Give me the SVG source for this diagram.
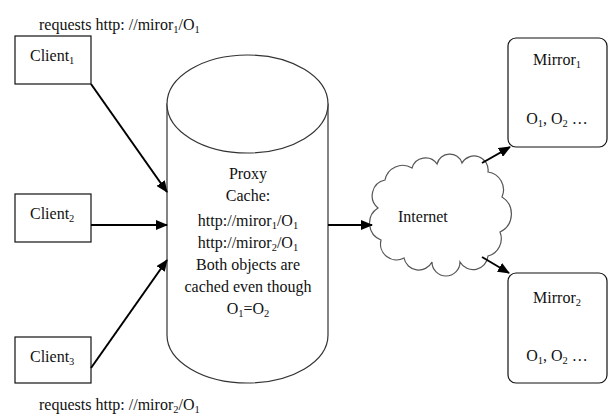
<svg xmlns="http://www.w3.org/2000/svg" width="608" height="416" viewBox="0 0 608 416">
<defs>
<style>
text{font-family:'Liberation Serif','Tinos','Times New Roman','DejaVu Serif',serif;font-size:16px;fill:#111;}
.c{text-anchor:middle;}
.box{fill:#fff;stroke:#111;stroke-width:1.2;}
.cyl{fill:#fff;stroke:#333;stroke-width:1.2;}
.cloud{fill:#fff;stroke:#555;stroke-width:1.2;}
.arr{stroke:#000;stroke-width:2;fill:none;marker-end:url(#ah);}
.s{font-size:10.5px;}
</style>
<marker id="ah" markerWidth="12" markerHeight="10" refX="11" refY="5" orient="auto" markerUnits="userSpaceOnUse"><path d="M0,0 L12,5 L0,10 z" fill="#000"/></marker>
</defs>
<rect width="608" height="416" fill="#fff"/>
<text x="39" y="30">requests http: //miror<tspan class="s" dy="3">1</tspan><tspan dy="-3">/O</tspan><tspan class="s" dy="3">1</tspan></text>
<text x="39" y="410">requests http: //miror<tspan class="s" dy="3">2</tspan><tspan dy="-3">/O</tspan><tspan class="s" dy="3">1</tspan></text>
<g id="client1"><rect class="box" x="15" y="36" width="76" height="48"/><text x="30" y="61">Client<tspan class="s" dy="3">1</tspan></text></g>
<g id="client2"><rect class="box" x="15" y="194" width="76" height="48"/><text x="30" y="219">Client<tspan class="s" dy="3">2</tspan></text></g>
<g id="client3"><rect class="box" x="15" y="337" width="76" height="46"/><text x="30" y="362">Client<tspan class="s" dy="3">3</tspan></text></g>
<g id="proxy">
<path class="cyl" d="M167,104 L167,335 A80.5,48 0 0 0 328,335 L328,104 Z"/>
<ellipse class="cyl" cx="247.5" cy="104" rx="80.5" ry="49"/>
<text class="c" x="248" y="179">Proxy</text>
<text class="c" x="248" y="201">Cache:</text>
<text class="c" x="248" y="226">http://miror<tspan class="s" dy="3">1</tspan><tspan dy="-3">/O</tspan><tspan class="s" dy="3">1</tspan></text>
<text class="c" x="248" y="248">http://miror<tspan class="s" dy="3">2</tspan><tspan dy="-3">/O</tspan><tspan class="s" dy="3">1</tspan></text>
<text class="c" x="248" y="270">Both objects are</text>
<text class="c" x="248" y="292">cached even though</text>
<text class="c" x="248" y="314">O<tspan class="s" dy="3">1</tspan><tspan dy="-3">=O</tspan><tspan class="s" dy="3">2</tspan></text>
</g>
<g id="internet">
<path class="cloud" d="M378,208 A16,16 0 0 1 385,180 A18,18 0 0 1 412,168 A14,14 0 0 1 437,164 A13,13 0 0 1 462,163 A14,14 0 0 1 488,172 A18,18 0 0 1 502,197 A20,20 0 0 1 500,232 A18,18 0 0 1 488,256 A15,15 0 0 1 460,262 A14,14 0 0 1 432,262 A15,15 0 0 1 404,258 A16,16 0 0 1 381,240 A18,18 0 0 1 378,208 Z"/>
<text x="398" y="222">Internet</text>
</g>
<g id="mirror1"><rect class="box" x="508" y="38" width="99" height="109" rx="8"/><text class="c" x="557" y="65">Mirror<tspan class="s" dy="3">1</tspan></text><text class="c" x="557" y="124">O<tspan class="s" dy="3">1</tspan><tspan dy="-3">, O</tspan><tspan class="s" dy="3">2</tspan><tspan dy="-3"> …</tspan></text></g>
<g id="mirror2"><rect class="box" x="508" y="273" width="99" height="110" rx="8"/><text class="c" x="557" y="303">Mirror<tspan class="s" dy="3">2</tspan></text><text class="c" x="557" y="361">O<tspan class="s" dy="3">1</tspan><tspan dy="-3">, O</tspan><tspan class="s" dy="3">2</tspan><tspan dy="-3"> …</tspan></text></g>
<g id="connectors">
<line class="arr" x1="91" y1="84" x2="167" y2="192"/>
<line class="arr" x1="91" y1="225" x2="167" y2="225"/>
<line class="arr" x1="91" y1="368" x2="167" y2="260"/>
<line class="arr" x1="328" y1="225" x2="372" y2="225"/>
<line class="arr" x1="482" y1="163" x2="510" y2="147"/>
<line class="arr" x1="482" y1="257" x2="509" y2="273"/>
</g>
</svg>
